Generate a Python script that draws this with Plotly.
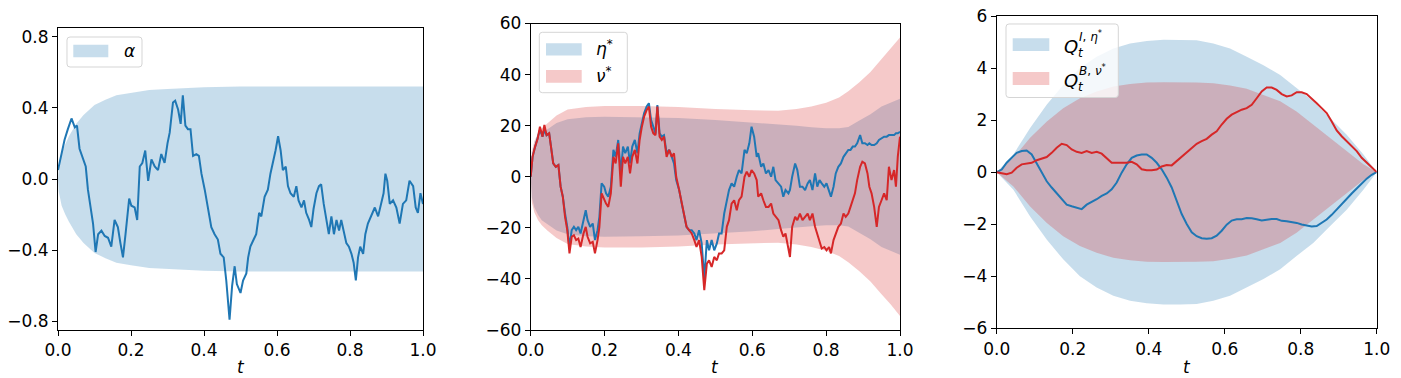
import plotly.graph_objects as go

# ---------------- Panel 1: alpha ----------------
alpha_t = [0.000, 0.009, 0.018, 0.027, 0.037, 0.046, 0.052, 0.059, 0.068, 0.076,
           0.082, 0.089, 0.096, 0.103, 0.110, 0.119, 0.128, 0.137, 0.146, 0.155,
           0.164, 0.171, 0.178, 0.185, 0.195, 0.201, 0.210, 0.217, 0.224, 0.231,
           0.239, 0.247, 0.256, 0.265, 0.274, 0.283, 0.292, 0.300, 0.306, 0.315,
           0.321, 0.329, 0.336, 0.342, 0.349, 0.356, 0.363, 0.370, 0.379, 0.386,
           0.393, 0.402, 0.411, 0.420, 0.429, 0.438, 0.445, 0.454, 0.461, 0.470,
           0.477, 0.484, 0.490, 0.500, 0.507, 0.516, 0.521, 0.527, 0.536, 0.543,
           0.551, 0.557, 0.566, 0.575, 0.582, 0.589, 0.596, 0.603, 0.610, 0.616,
           0.624, 0.630, 0.637, 0.646, 0.653, 0.659, 0.667, 0.674, 0.680, 0.688,
           0.694, 0.700, 0.708, 0.715, 0.721, 0.728, 0.735, 0.742, 0.749, 0.756,
           0.763, 0.770, 0.776, 0.784, 0.790, 0.797, 0.804, 0.810, 0.816, 0.822,
           0.828, 0.836, 0.842, 0.849, 0.858, 0.868, 0.877, 0.886, 0.892, 0.897,
           0.902, 0.909, 0.918, 0.927, 0.936, 0.945, 0.954, 0.963, 0.973, 0.980,
           0.986, 0.993, 1.000]
alpha_v = [0.05, 0.14, 0.22, 0.28, 0.34, 0.29, 0.30, 0.17, 0.11, 0.07,
           -0.06, -0.16, -0.25, -0.41, -0.31, -0.29, -0.32, -0.33, -0.38, -0.23,
           -0.27, -0.36, -0.44, -0.31, -0.11, -0.15, -0.16, -0.23, 0.07, 0.09,
           0.16, -0.01, 0.11, 0.07, 0.05, 0.14, 0.09, 0.20, 0.26, 0.43,
           0.44, 0.39, 0.31, 0.47, 0.30, 0.28, 0.28, 0.13, 0.14, 0.13,
           0.03, -0.06, -0.16, -0.27, -0.31, -0.34, -0.42, -0.44, -0.57, -0.79,
           -0.60, -0.49, -0.59, -0.64, -0.57, -0.53, -0.44, -0.38, -0.34, -0.31,
           -0.19, -0.21, -0.10, -0.06, 0.03, 0.09, 0.16, 0.24, 0.16, 0.05,
           0.07, -0.04, -0.08, -0.10, -0.04, -0.12, -0.16, -0.12, -0.19, -0.23,
           -0.27, -0.17, -0.08, -0.04, -0.03, -0.14, -0.23, -0.31, -0.21, -0.31,
           -0.23, -0.29, -0.23, -0.31, -0.36, -0.38, -0.42, -0.47, -0.57, -0.44,
           -0.38, -0.42, -0.31, -0.25, -0.21, -0.16, -0.21, -0.14, -0.08, 0.03,
           -0.01, -0.14, -0.12, -0.16, -0.25, -0.14, -0.12, -0.01, -0.04, -0.16,
           -0.19, -0.08, -0.14]
alpha_band_t = [0, 0.002, 0.005, 0.01, 0.02, 0.03, 0.05, 0.07, 0.1, 0.13, 0.16,
                0.2, 0.25, 0.3, 0.4, 0.5, 0.6, 0.8, 1.0]
alpha_band = [0, 0.07, 0.11, 0.15, 0.2, 0.24, 0.31, 0.36, 0.415, 0.445, 0.47,
              0.485, 0.50, 0.505, 0.515, 0.52, 0.52, 0.52, 0.52]

# ---------------- Panel 2: eta*, nu* ----------------
en_t = [0.000, 0.005, 0.012, 0.019, 0.025, 0.032, 0.037, 0.043, 0.050, 0.055,
        0.061, 0.068, 0.075, 0.081, 0.087, 0.093, 0.099, 0.105, 0.111, 0.117,
        0.123, 0.129, 0.135, 0.143, 0.149, 0.154, 0.161, 0.168, 0.174, 0.181,
        0.186, 0.192, 0.199, 0.204, 0.210, 0.217, 0.224, 0.230, 0.237, 0.244,
        0.250, 0.256, 0.263, 0.269, 0.275, 0.282, 0.289, 0.295, 0.301, 0.307,
        0.314, 0.320, 0.326, 0.332, 0.338, 0.343, 0.349, 0.355, 0.361, 0.368,
        0.375, 0.382, 0.388, 0.394, 0.402, 0.409, 0.416, 0.422, 0.429, 0.436,
        0.443, 0.449, 0.456, 0.463, 0.470, 0.477, 0.483, 0.490, 0.497, 0.504,
        0.510, 0.517, 0.524, 0.531, 0.537, 0.544, 0.551, 0.558, 0.564, 0.571,
        0.579, 0.585, 0.592, 0.598, 0.605, 0.612, 0.616, 0.624, 0.630, 0.637,
        0.644, 0.651, 0.657, 0.663, 0.671, 0.678, 0.684, 0.690, 0.698, 0.702,
        0.708, 0.716, 0.722, 0.729, 0.736, 0.743, 0.750, 0.756, 0.763, 0.770,
        0.776, 0.782, 0.788, 0.795, 0.801, 0.808, 0.813, 0.820, 0.826, 0.833,
        0.840, 0.847, 0.853, 0.860, 0.866, 0.872, 0.878, 0.884, 0.892, 0.898,
        0.905, 0.912, 0.917, 0.923, 0.930, 0.937, 0.943, 0.950, 0.957, 0.964,
        0.970, 0.977, 0.984, 0.989, 0.994, 1.000]
nu_v = [0, 7.8, 11.8, 15, 19.6, 15.7, 20.3, 16.3, 17, 11.8,
        5.2, 3.9, 4.6, -3.9, -7.8, -15.7, -20.9, -30, -23.5, -22.9,
        -24.8, -24.2, -27.5, -22.2, -19.6, -23.5, -26.1, -25.5, -30, -24.8,
        -19.6, -6.5, -9.2, -10.5, -11.8, -6.5, 7.8, 5.2, 13.1, -3.9,
        7.8, 5.2, 7.8, 1.3, 7.8, 10.5, 5.2, 14.4, 19.6, 23.5,
        26.1, 27.5, 19.6, 17, 16.3, 27.5, 15.7, 14.4, 15.7, 7.8,
        10.5, 7.8, 9.2, 0, -5.2, -10.5, -15.7, -19.6, -20.9, -22.2,
        -24.8, -27.5, -24.8, -31.4, -44.4, -34, -32.7, -35.3, -31.4, -32.7,
        -30, -30, -28.8, -19.6, -17, -10.5, -9.2, -13.1, -9.2, -7.8,
        0, 2, 0, 2.6, 1.3, -1.3, -7.8, -6.5, -9.2, -11.8,
        -11.8, -10.5, -14.4, -15.7, -17, -20.9, -23.5, -22.2, -27.5, -31.4,
        -19.6, -15.7, -17, -14.4, -17, -15.7, -14.4, -17, -14.4, -19.6,
        -22.2, -24.8, -28.1, -27.5, -28.8, -27.5, -30, -24.8, -22.2, -19.6,
        -18.3, -14.4, -15.7, -14.4, -11.8, -9.2, -6.5, -1.3, 3.9, 5.9,
        5.2, 1.3, -3.9, -6.5, -11.8, -19.6, -11.8, -9.2, -6.5, -9.2,
        3.9, -1.3, 2.6, -3.9, 7.8, 15.7]
eta_v = [0, 7.8, 11.8, 15, 18.3, 15.7, 18.3, 16.3, 17, 11.8,
         5.2, 3.9, 4.6, -3.9, -7.8, -14.4, -19.6, -27.5, -20.9, -19.6,
         -20.9, -19.6, -22.2, -17, -13.1, -17, -19.6, -18.3, -24.8, -20.9,
         -15.7, -2.6, -3.9, -6.5, -7.8, -3.9, 10.5, 7.8, 14.4, 1.3,
         11.8, 9.2, 11.8, 5.2, 11.8, 14.4, 9.2, 17, 20.9, 24.8,
         27.5, 28.8, 22.2, 19.6, 17, 28.1, 17, 15.7, 16.3, 9.2,
         10.5, 7.8, 5.2, -1.3, -5.2, -10.5, -15.7, -19.6, -20.9, -20.9,
         -22.2, -24.8, -20.9, -26.1, -40, -24.8, -28.8, -24.8, -28.8, -26.1,
         -22.2, -22.2, -14.4, -9.2, -5.2, -2.6, -3.9, 0, 2.6, 1.3,
         10.5, 9.2, 13.1, 19.6, 15.7, 7.8, 9.2, 3.9, 5.2, 1.3,
         2.6, 0, 3.9, -1.3, -2.6, -3.9, -7.8, -5.2, -6.5, -5.2,
         0, 5.2, 2.6, -3.9, -3.9, -5.2, -2.6, -1.3, -5.2, 1.3,
         -3.9, -1.3, -2.6, -3.9, -2.6, -5.2, -7.8, -3.9, 1.3, 3.9,
         5.2, 7.8, 9.2, 10.5, 10.5, 11.8, 11.8, 13.1, 16.3, 13.1,
         13.1, 12.4, 13.1, 12.4, 12.4, 13.1, 14.4, 15, 15.7, 15.7,
         16.3, 16.3, 16.3, 17, 17, 17.6]
en_band_t = [0, 0.003, 0.01, 0.02, 0.03, 0.045, 0.07, 0.1, 0.15, 0.2, 0.3, 0.4,
             0.5, 0.6, 0.67, 0.72, 0.76, 0.8, 0.835, 0.86, 0.89, 0.92, 0.95,
             0.975, 1.0]
nu_band = [0, 10, 14, 17, 19, 21, 24, 26.3, 27.3, 27.7, 27.7, 27.3,
           26.5, 26, 25.8, 26.5, 27.5, 29, 31, 33.5, 37, 41, 46, 50, 54.5]
eta_band = [0, 8, 12, 15, 17, 18.5, 21, 22.5, 23.3, 23.5, 23.3, 23,
            22.2, 21.3, 20.5, 20, 19.4, 19, 19, 19.5, 22, 24.5, 27.5, 29, 30.5]

# ---------------- Panel 3: Q^I, Q^B ----------------
q_t = [round(k / 76, 4) for k in range(77)]
qi_v = [0, 0.1, 0.36, 0.55, 0.74, 0.81, 0.83, 0.68, 0.33, -0.05,
        -0.35, -0.59, -0.8, -1.05, -1.25, -1.31, -1.37, -1.42, -1.25, -1.16,
        -1.04, -0.91, -0.82, -0.66, -0.4, -0.02, 0.3, 0.55, 0.64, 0.68,
        0.68, 0.55, 0.36, 0.11, -0.21, -0.59, -1.1, -1.61, -1.99, -2.31,
        -2.46, -2.54, -2.56, -2.54, -2.44, -2.25, -2.02, -1.86, -1.81, -1.81,
        -1.76, -1.77, -1.81, -1.86, -1.83, -1.8, -1.8, -1.87, -1.89, -1.91,
        -1.95, -2.01, -2.06, -2.09, -2.07, -1.96, -1.82, -1.64, -1.43, -1.2,
        -1.02, -0.82, -0.63, -0.44, -0.25, -0.1, 0]
qb_v = [0, -0.03, -0.08, -0.02, 0.17, 0.3, 0.32, 0.36, 0.46, 0.53,
        0.58, 0.74, 0.94, 1.09, 1.04, 0.87, 0.78, 0.74, 0.81, 0.74,
        0.78, 0.71, 0.55, 0.36, 0.36, 0.36, 0.36, 0.4, 0.3, 0.11,
        0.07, 0.07, 0.1, 0.22, 0.27, 0.26, 0.43, 0.62, 0.78, 0.94,
        1.09, 1.19, 1.28, 1.44, 1.57, 1.83, 2.05, 2.21, 2.31, 2.4,
        2.46, 2.59, 2.84, 3.1, 3.25, 3.25, 3.16, 3.0, 2.91, 2.95,
        3.07, 3.07, 3.0, 2.84, 2.65, 2.46, 2.27, 1.95, 1.6, 1.38,
        1.19, 1.0, 0.81, 0.55, 0.36, 0.17, 0]
q_band_t = [0, 0.044, 0.088, 0.132, 0.175, 0.219, 0.263, 0.307, 0.351, 0.395,
            0.439, 0.482, 0.526, 0.570, 0.614, 0.658, 0.702, 0.746, 0.789,
            0.833, 0.877, 0.921, 0.965, 1.0]
qi_band = [0, 0.68, 1.7, 2.6, 3.35, 4.0, 4.43, 4.75, 4.94, 5.04, 5.09, 5.09,
           5.07, 4.94, 4.75, 4.43, 4.11, 3.73, 3.22, 2.72, 2.08, 1.44, 0.68, 0]
qb_band = [0, 0.55, 1.32, 1.95, 2.46, 2.84, 3.1, 3.29, 3.39, 3.44, 3.45, 3.45,
           3.44, 3.42, 3.33, 3.2, 2.97, 2.72, 2.33, 1.83, 1.32, 0.81, 0.3, 0]

x_ticks = [0, 0.2, 0.4, 0.6, 0.8, 1.0]
x_ticktext = ["0.0", "0.2", "0.4", "0.6", "0.8", "1.0"]

# ---------------- styling ----------------
BLUE = "#1f77b4"
RED = "#d62728"
BLUE_FILL = "rgba(31,119,180,0.25)"
RED_FILL = "rgba(214,39,40,0.25)"
FONT = "DejaVu Sans"
# the page body adds an 8px margin, so the figure is drawn 8px in from the corner
OFF = 8
W, H = 1393, 370


def band(t, half, color, name, xa, ya):
    xs = list(t) + list(t)[::-1]
    ys = list(half) + [-v for v in half][::-1]
    return go.Scatter(x=xs, y=ys, fill="toself", fillcolor=color, mode="lines",
                      line=dict(width=0, color=color), name=name, xaxis=xa,
                      yaxis=ya, showlegend=False, hoverinfo="skip")


def line(t, v, color, name, xa, ya):
    return go.Scatter(x=t, y=v, mode="lines", line=dict(color=color, width=2),
                      name=name, showlegend=False, xaxis=xa, yaxis=ya)


fig = go.Figure()
fig.add_trace(band(alpha_band_t, alpha_band, BLUE_FILL, "α", "x", "y"))
fig.add_trace(line(alpha_t, alpha_v, BLUE, "α path", "x", "y"))

fig.add_trace(band(en_band_t, eta_band, BLUE_FILL, "η*", "x2", "y2"))
fig.add_trace(band(en_band_t, nu_band, RED_FILL, "ν*", "x2", "y2"))
fig.add_trace(line(en_t, eta_v, BLUE, "η* path", "x2", "y2"))
fig.add_trace(line(en_t, nu_v, RED, "ν* path", "x2", "y2"))

fig.add_trace(band(q_band_t, qi_band, BLUE_FILL, "Q^I", "x3", "y3"))
fig.add_trace(band(q_band_t, qb_band, RED_FILL, "Q^B", "x3", "y3"))
fig.add_trace(line(q_t, qi_v, BLUE, "Q^I path", "x3", "y3"))
fig.add_trace(line(q_t, qb_v, RED, "Q^B path", "x3", "y3"))

tickfont = dict(family=FONT, size=17, color="black")
common = dict(showline=True, linecolor="black", linewidth=1, mirror=True,
              ticks="outside", ticklen=5, tickwidth=1, tickcolor="black",
              showgrid=False, zeroline=False, tickfont=tickfont, automargin=False,
              ticklabeloverflow="allow")


def sx(x):
    return (x - OFF) / W


def sy(y):
    return 1 - (y - OFF) / H


def xaxis(a, b, anchor):
    return dict(domain=[sx(a), sx(b)], anchor=anchor, range=[0, 1], tickvals=x_ticks,
                ticktext=x_ticktext, **common)


def ydom(top, bottom):
    return [sy(bottom), sy(top)]


fig.update_layout(
    width=W, height=H, margin=dict(l=0, r=0, t=0, b=0),
    paper_bgcolor="white", plot_bgcolor="white", showlegend=False,
    xaxis=xaxis(58, 423, "y"),
    yaxis=dict(domain=ydom(28, 330), anchor="x", range=[-0.848, 0.848],
               tickvals=[-0.8, -0.4, 0, 0.4, 0.8],
               ticktext=["−0.8", "−0.4", "0.0", "0.4", "0.8"], **common),
    xaxis2=xaxis(530.7, 900, "y2"),
    yaxis2=dict(domain=ydom(23.5, 330), anchor="x2", range=[-60, 60],
                tickvals=[-60, -40, -20, 0, 20, 40, 60],
                ticktext=["−60", "−40", "−20", "0", "20", "40", "60"], **common),
    xaxis3=xaxis(996.7, 1376.7, "y3"),
    yaxis3=dict(domain=ydom(16, 328.3), anchor="x3", range=[-6, 6],
                tickvals=[-6, -4, -2, 0, 2, 4, 6],
                ticktext=["−6", "−4", "−2", "0", "2", "4", "6"], **common),
)

# ---------------- legends (drawn as boxes, swatches and text) ----------------
shapes = []
annotations = []


def P(x, y):
    return f"{sx(x):.5f},{sy(y):.5f}"


def rounded_box(x0, y0, x1, y1, r=3):
    path = (f"M {P(x0 + r, y0)} L {P(x1 - r, y0)} Q {P(x1, y0)} {P(x1, y0 + r)} "
            f"L {P(x1, y1 - r)} Q {P(x1, y1)} {P(x1 - r, y1)} "
            f"L {P(x0 + r, y1)} Q {P(x0, y1)} {P(x0, y1 - r)} "
            f"L {P(x0, y0 + r)} Q {P(x0, y0)} {P(x0 + r, y0)} Z")
    shapes.append(dict(type="path", path=path, xref="paper", yref="paper",
                       fillcolor="rgba(255,255,255,0.8)",
                       line=dict(color="#d5d5d5", width=1), layer="above"))


def swatch(x0, y0, x1, y1, color):
    shapes.append(dict(type="rect", x0=sx(x0), x1=sx(x1), y0=sy(y1), y1=sy(y0),
                       xref="paper", yref="paper", fillcolor=color,
                       line=dict(width=0), layer="above"))


def label(x, y, text, size=17, xanchor="left"):
    annotations.append(dict(x=sx(x), y=sy(y), xref="paper", yref="paper",
                            text=text, showarrow=False, xanchor=xanchor,
                            yanchor="middle",
                            font=dict(family=FONT, size=size, color="black")))


# panel 1
rounded_box(67, 37, 142, 67)
swatch(73.3, 44.7, 108.3, 57.3, BLUE_FILL)
label(122, 51, "<i>α</i>")

# panel 2
rounded_box(539.3, 32.3, 627.3, 92.7)
swatch(546, 43.3, 581.7, 55.5, BLUE_FILL)
swatch(546, 70, 581.7, 82.7, RED_FILL)
label(594, 48, "<i>η</i><sup>*</sup>")
label(594, 75, "<i>ν</i><sup>*</sup>")

# panel 3
rounded_box(1006, 24, 1118.3, 97.5)
swatch(1012.7, 38.3, 1049.3, 51, BLUE_FILL)
swatch(1012.7, 72, 1049.3, 85, RED_FILL)
for yc, sup in ((46, "<i>I</i>, <i>η</i><sup>*</sup>"), (80, "<i>B</i>, <i>ν</i><sup>*</sup>")):
    label(1062, yc, "<i>Q</i>", size=18)
    label(1076, yc + 7, "<i>t</i>", size=12)
    label(1077, yc - 10, sup, size=12)

# x-axis titles
for xc in (240.5, 715.3, 1186.7):
    label(xc, 367, "<i>t</i>", size=17, xanchor="center")

fig.update_layout(shapes=shapes, annotations=annotations)

fig.write_html("out.html")
